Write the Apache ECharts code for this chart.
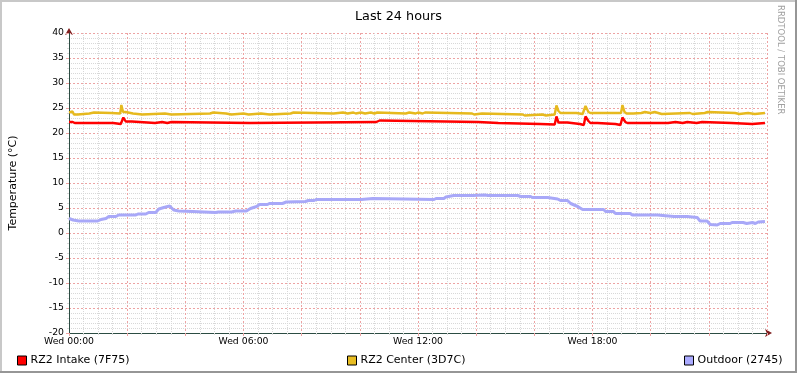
<!DOCTYPE html>
<html>
<head>
<meta charset="utf-8">
<script src="https://cdn.jsdelivr.net/npm/echarts@6/dist/echarts.min.js"></script>
<style>
  html, body { margin: 0; padding: 0; background: #fff; }
  #chart { width: 797px; height: 373px; }
</style>
</head>
<body>
<div id="chart"></div>
<script>
// ---- data (hours since Wed 00:00, °C) ----
const intakeHours = [0, 0.13, 0.2, 1.52, 1.56, 1.78, 1.87, 1.95, 2.16, 2.22, 2.96, 3.0, 3.2, 3.24, 3.38, 3.40, 3.52, 3.55, 6.22, 6.26, 10.57, 10.6, 10.68, 10.72, 14.07, 14.11, 14.76, 14.8, 16.2, 16.24, 16.7, 16.76, 16.83, 17.14, 17.18, 17.57, 17.6, 17.7, 17.76, 17.86, 17.93, 18.17, 18.21, 18.79, 18.82, 18.96, 19.03, 19.13, 19.2, 20.6, 20.64, 20.85, 20.88, 21.1, 21.13, 21.26, 21.3, 21.58, 21.62, 21.77, 21.8, 22.78, 22.82, 23.49, 23.53, 23.93];
const intakeTemps = [22.2, 22.2, 22.0, 22.0, 21.8, 21.8, 23.1, 22.3, 22.3, 22.0, 22.0, 22.2, 22.2, 22.0, 22.0, 22.2, 22.2, 22.0, 22.0, 22.2, 22.2, 22.5, 22.5, 22.2, 22.2, 22.0, 22.0, 21.8, 21.8, 21.7, 21.7, 23.3, 22.1, 22.1, 21.8, 21.8, 21.6, 21.6, 23.3, 22.4, 22.0, 22.0, 21.8, 21.8, 21.6, 21.6, 23.1, 22.2, 22.0, 22.0, 22.2, 22.2, 22.0, 22.0, 22.2, 22.2, 22.0, 22.0, 22.2, 22.2, 22.0, 22.0, 21.8, 21.8, 22.0, 22.0];

const centerHours = [0, 0.05, 0.12, 0.17, 0.3, 0.34, 0.7, 0.74, 0.86, 0.9, 1.45, 1.5, 1.76, 1.80, 1.86, 1.95, 2.0, 2.2, 2.24, 2.52, 2.56, 3.3, 3.34, 3.52, 3.56, 4.85, 4.88, 4.96, 5.0, 5.4, 5.43, 5.58, 5.62, 6.0, 6.03, 6.18, 6.22, 6.6, 6.63, 6.9, 6.93, 7.62, 7.65, 7.72, 7.76, 9.1, 9.13, 9.42, 9.45, 9.58, 9.61, 9.78, 9.81, 9.86, 9.89, 10.04, 10.07, 10.18, 10.21, 10.38, 10.41, 10.5, 10.53, 10.6, 10.63, 11.58, 11.61, 11.7, 11.73, 11.92, 11.95, 12.0, 12.03, 12.16, 12.19, 12.24, 12.27, 13.86, 13.89, 13.93, 13.96, 14.2, 14.24, 15.6, 15.63, 15.67, 15.7, 16.28, 16.31, 16.4, 16.43, 16.7, 16.76, 16.83, 16.9, 17.45, 17.5, 17.66, 17.76, 17.86, 17.93, 18.98, 19.03, 19.1, 19.17, 19.4, 19.45, 19.68, 19.71, 19.8, 19.83, 19.99, 20.02, 20.14, 20.17, 20.38, 20.41, 21.35, 21.38, 21.44, 21.47, 21.86, 21.89, 21.96, 21.99, 22.9, 22.93, 23.05, 23.08, 23.35, 23.38, 23.58, 23.61, 23.93];
const centerTemps = [24.1, 24.3, 24.3, 23.7, 23.7, 23.9, 23.9, 24.1, 24.1, 24.0, 24.0, 23.9, 23.9, 25.6, 24.2, 24.2, 23.9, 23.9, 23.7, 23.7, 23.9, 23.9, 23.7, 23.7, 23.9, 23.9, 24.1, 24.1, 23.9, 23.9, 23.7, 23.7, 23.9, 23.9, 23.7, 23.7, 23.9, 23.9, 23.7, 23.7, 23.9, 23.9, 24.1, 24.1, 23.9, 23.9, 24.1, 24.1, 23.9, 23.9, 24.1, 24.1, 23.9, 23.9, 24.1, 24.1, 23.9, 23.9, 24.1, 24.1, 23.9, 23.9, 24.1, 24.1, 23.9, 23.9, 24.1, 24.1, 23.9, 23.9, 24.1, 24.1, 23.9, 23.9, 24.1, 24.1, 23.9, 23.9, 23.7, 23.7, 23.9, 23.9, 23.7, 23.7, 23.5, 23.5, 23.7, 23.7, 23.5, 23.5, 23.7, 23.7, 25.5, 24.4, 24.0, 24.0, 23.8, 23.8, 25.4, 24.2, 24.0, 24.0, 25.6, 24.2, 23.9, 23.9, 24.0, 24.0, 24.2, 24.2, 24.0, 24.0, 24.2, 24.2, 23.8, 23.8, 24.0, 24.0, 23.8, 23.8, 24.0, 24.0, 24.2, 24.2, 24.0, 24.0, 23.8, 23.8, 24.0, 24.0, 23.8, 23.8, 24.0, 24.0];

const outdoorHours = [0, 0.14, 0.34, 0.99, 1.1, 1.27, 1.37, 1.61, 1.71, 2.30, 2.37, 2.64, 2.74, 2.98, 3.09, 3.26, 3.46, 3.6, 3.77, 4.25, 4.29, 5.04, 5.14, 5.59, 5.73, 6.10, 6.24, 6.45, 6.55, 6.82, 6.89, 7.34, 7.47, 8.13, 8.23, 8.43, 8.5, 10.05, 10.1, 10.45, 10.49, 12.55, 12.62, 12.89, 12.96, 13.23, 13.89, 13.92, 14.3, 14.4, 15.43, 15.53, 15.87, 15.94, 16.46, 16.49, 16.8, 16.9, 17.14, 17.25, 17.49, 17.66, 18.38, 18.45, 18.72, 18.79, 19.30, 19.37, 20.23, 20.26, 20.8, 20.85, 20.95, 21.26, 21.29, 21.6, 21.7, 21.94, 22.05, 22.29, 22.39, 22.73, 22.8, 23.18, 23.3, 23.5, 23.6, 23.7, 23.93];
const outdoorTemps = [2.9, 2.6, 2.4, 2.4, 2.7, 2.9, 3.3, 3.3, 3.6, 3.6, 3.8, 3.8, 4.1, 4.1, 4.8, 5.1, 5.4, 4.6, 4.4, 4.3, 4.1, 4.1, 4.2, 4.2, 4.4, 4.4, 4.9, 5.3, 5.7, 5.7, 5.9, 5.9, 6.2, 6.3, 6.5, 6.5, 6.7, 6.7, 6.9, 6.9, 6.7, 6.7, 6.9, 6.9, 7.2, 7.5, 7.5, 7.7, 7.6, 7.5, 7.5, 7.3, 7.3, 7.1, 7.1, 6.8, 6.8, 6.5, 6.5, 5.9, 5.3, 4.7, 4.7, 4.3, 4.3, 3.9, 3.9, 3.6, 3.6, 3.3, 3.3, 3.6, 3.3, 3.3, 3.1, 3.1, 2.4, 2.4, 1.7, 1.6, 1.9, 1.9, 2.1, 2.1, 1.9, 2.1, 1.9, 2.2, 2.3];

const seriesNames = ['RZ2 Intake (7F75)', 'RZ2 Center (3D7C)', 'Outdoor (2745)'];
const xTickHours = [0, 6, 12, 18];
const xTickLabels = ['Wed 00:00', 'Wed 06:00', 'Wed 12:00', 'Wed 18:00'];
const titleText = 'Last 24 hours';
const yAxisTitle = 'Temperature (°C)';
const watermark = 'RRDTOOL / TOBI OETIKER';

// ---- chart ----
const pair = (hs, vs) => hs.map((h, i) => [h, vs[i]]);
const FONT = 'DejaVu Sans';
const minorGrid = '#d8d8d8';
const majorGrid = '#eda3a3';
const axisColor = '#2C4D43';
const arrowColor = '#7F1F1F';

const chart = echarts.init(document.getElementById('chart'), null, { renderer: 'canvas' });

function legendAt(left, name) {
  return {
    left: left, top: 350, icon: 'rect', itemWidth: 9, itemHeight: 9, itemGap: 0,
    data: [name], selectedMode: false,
    itemStyle: { borderColor: '#000', borderWidth: 1 },
    textStyle: { fontFamily: FONT, fontSize: 11, color: '#000', padding: [0, 0, 0, -1] }
  };
}

const option = {
  backgroundColor: '#fff',
  animation: false,
  title: {
    text: titleText, left: 'center', top: 5,
    textStyle: { fontFamily: FONT, fontSize: 12.8, fontWeight: 'normal', color: '#000' }
  },
  legend: [legendAt(12, seriesNames[0]), legendAt(342, seriesNames[1]), legendAt(679, seriesNames[2])],
  grid: { left: 67, right: 30, top: 33, bottom: 40, containLabel: false },
  xAxis: [{
    type: 'value', min: 0, max: 24, interval: 2, z: 1, position: 'bottom',
    axisLine: { show: true, lineStyle: { color: axisColor, width: 1 }, onZero: false },
    axisTick: { show: true, length: 3, inside: false, lineStyle: { color: majorGrid } },
    minorTick: { show: true, splitNumber: 4, length: 2, lineStyle: { color: minorGrid } },
    axisLabel: {
      fontFamily: FONT, fontSize: 9.3, color: '#000', margin: 4,
      formatter: v => { const i = xTickHours.indexOf(v); return i >= 0 ? xTickLabels[i] : ''; }
    },
    splitLine: { show: true, lineStyle: { color: majorGrid, type: [2, 2], width: 1 } },
    minorSplitLine: { show: true, lineStyle: { color: minorGrid, type: [1, 1], width: 1 } }
  }, {
    type: 'value', min: 0, max: 24, z: 0, position: 'bottom',
    axisLine: { show: true, lineStyle: { color: arrowColor, width: 1 }, symbol: ['none', 'arrow'], symbolSize: [6, 7], symbolOffset: [0, 5], onZero: false },
    axisTick: { show: false }, axisLabel: { show: false }, splitLine: { show: false }
  }],
  yAxis: [{
    type: 'value', min: -20, max: 40, interval: 5, z: 1, position: 'left',
    name: yAxisTitle, nameLocation: 'middle', nameGap: 50, nameRotate: 90,
    nameTextStyle: { fontFamily: FONT, fontSize: 11, color: '#000' },
    axisLine: { show: true, lineStyle: { color: axisColor, width: 1 }, onZero: false },
    axisTick: { show: true, length: 3, lineStyle: { color: majorGrid } },
    minorTick: { show: true, splitNumber: 5, length: 2, lineStyle: { color: minorGrid } },
    axisLabel: { fontFamily: FONT, fontSize: 9.3, color: '#000', margin: 5 },
    splitLine: { show: true, lineStyle: { color: majorGrid, type: [2, 2], width: 1 } },
    minorSplitLine: { show: true, lineStyle: { color: minorGrid, type: [1, 1], width: 1 } }
  }, {
    type: 'value', min: -20, max: 40, z: 0, position: 'left',
    axisLine: { show: true, lineStyle: { color: arrowColor, width: 1 }, symbol: ['none', 'arrow'], symbolSize: [6, 7], symbolOffset: [0, 5], onZero: false },
    axisTick: { show: false }, axisLabel: { show: false }, splitLine: { show: false }
  }],
  series: [
    { name: seriesNames[2], type: 'line', data: pair(outdoorHours, outdoorTemps), showSymbol: false, symbol: 'none',
      color: '#aaaaff', lineStyle: { width: 3, color: '#a8a8f8' }, z: 2 },
    { name: seriesNames[1], type: 'line', data: pair(centerHours, centerTemps), showSymbol: false, symbol: 'none',
      color: '#e8bd22', lineStyle: { width: 2.4, color: '#e6b91e' }, z: 3 },
    { name: seriesNames[0], type: 'line', data: pair(intakeHours, intakeTemps), showSymbol: false, symbol: 'none',
      color: '#ff0000', lineStyle: { width: 2.4, color: '#ff0000' }, z: 4 }
  ],
  graphic: [
    { type: 'rect', left: 0, top: 0, shape: { width: 797, height: 2 }, style: { fill: '#C8C8C8' }, silent: true },
    { type: 'rect', left: 0, top: 0, shape: { width: 2, height: 373 }, style: { fill: '#C8C8C8' }, silent: true },
    { type: 'rect', left: 0, top: 371, shape: { width: 797, height: 2 }, style: { fill: '#969696' }, silent: true },
    { type: 'rect', left: 795, top: 0, shape: { width: 2, height: 373 }, style: { fill: '#969696' }, silent: true },
    { type: 'text', x: 785, y: 5, rotation: -Math.PI / 2, silent: true,
      style: { text: watermark, fontFamily: FONT, fontSize: 8.5, fill: '#a0a0a0', textAlign: 'left', textVerticalAlign: 'top' } }
  ]
};
chart.setOption(option);
</script>
</body>
</html>
